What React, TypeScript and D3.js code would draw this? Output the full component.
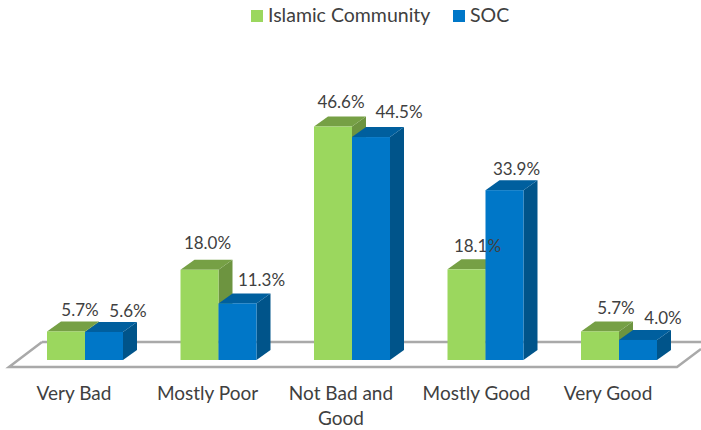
import React from "react";
import * as d3 from "d3";

const categories = ["Very Bad", "Mostly Poor", "Not Bad and Good", "Mostly Good", "Very Good"];
const seriesNames = ["Islamic Community", "SOC"];
const islamicCommunity = [5.7, 18.0, 46.6, 18.1, 5.7];
const soc = [5.6, 11.3, 44.5, 33.9, 4.0];

const W = 701, H = 430;
const BASE = 360, BAR = 38, DX = 14, DY = 10;
const FONT = "Lato, 'Open Sans', sans-serif";
const TEXT = "#404040";

const y = d3.scaleLinear().domain([0, 50]).range([BASE, BASE - 250.5]);
const x0 = d3.scaleLinear().domain([0, 4]).range([47, 581]);

const palettes = [
  { front: "#9BD75E", top: "#76A045", side: "#6D9440" },
  { front: "#0077C8", top: "#005F9E", side: "#00548A" },
];

// label offsets from the bar's front-top-left corner
const labelOffsets = [
  [[33, -15], [43, -15]],
  [[27, -21], [43, -17]],
  [[27, -19], [47, -19]],
  [[30, -17], [31, -15]],
  [[35, -17], [44, -16]],
];
const values = [islamicCommunity, soc];

function Bar({ x, value, c }: { x: number; value: number; c: typeof palettes[0] }) {
  const t = y(value);
  const line = d3.line();
  const poly = (p: [number, number][]) => line(p)! + "Z";
  return (
    <g>
      <path d={poly([[x + BAR, t], [x + BAR + DX, t - DY], [x + BAR + DX, BASE - DY], [x + BAR, BASE]])} fill={c.side} />
      <path d={poly([[x, t], [x + DX, t - DY], [x + BAR + DX, t - DY], [x + BAR, t]])} fill={c.top} />
      <rect x={x} y={t} width={BAR} height={BASE - t} fill={c.front} />
    </g>
  );
}

export default function App() {
  const floor = d3.line()([[42, 342], [701, 342]]);
  const floorFront = d3.line()([[701, 349], [677, 367], [9, 367], [42, 342]]);
  return (
    <svg width={W} height={H} style={{ position: "absolute", left: 0, top: 0, background: "#fff" }} fontFamily={FONT}>
      <path d={floor!} stroke="#A9A9A9" strokeWidth={2.5} fill="none" />
      <path d={floorFront!} stroke="#A9A9A9" strokeWidth={2.5} fill="none" />

      {categories.map((_, i) =>
        values.map((vals, s) => (
          <Bar key={`${i}-${s}`} x={x0(i) + s * BAR} value={vals[i]} c={palettes[s]} />
        ))
      )}

      {categories.map((_, i) =>
        values.map((vals, s) => (
          <text
            key={`l${i}-${s}`}
            x={x0(i) + s * BAR + labelOffsets[i][s][0]}
            y={y(vals[i]) + labelOffsets[i][s][1]}
            textAnchor="middle"
            fontSize={17}
            fill={TEXT}
          >
            {vals[i].toFixed(1)}%
          </text>
        ))
      )}

      {categories.map((c, i) => {
        const cx = x0(i) + 27 + (i === 3 ? 2 : 0);
        const lines = c === "Not Bad and Good" ? ["Not Bad and", "Good"] : [c];
        return lines.map((l, j) => (
          <text key={l} x={cx} y={400 + j * 25} textAnchor="middle" fontSize={19} fill={TEXT}>
            {l}
          </text>
        ));
      })}

      <rect x={251} y={10} width={12} height={12} fill={palettes[0].front} />
      <text x={268} y={22} fontSize={19.5} fill={TEXT}>{seriesNames[0]}</text>
      <rect x={453} y={10} width={12} height={12} fill={palettes[1].front} />
      <text x={470} y={22} fontSize={19.5} fill={TEXT}>{seriesNames[1]}</text>
    </svg>
  );
}
